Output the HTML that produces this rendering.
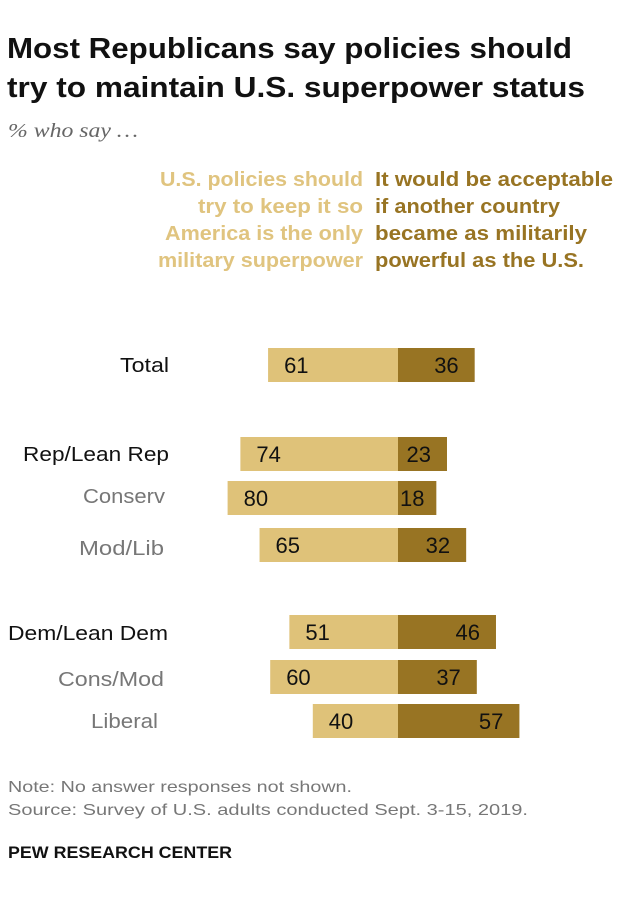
<!DOCTYPE html>
<html><head><meta charset="utf-8"><style>
body{margin:0;width:620px;height:900px;background:#fff;font-family:"Liberation Sans",Arial,sans-serif;overflow:hidden}
svg text{font-family:"Liberation Sans",Arial,sans-serif}
</style></head><body>
<svg id="chart" width="620" height="900" style="position:absolute;left:0;top:0">
<text x="7" y="58" font-size="29" font-weight="bold" fill="#111" textLength="565" lengthAdjust="spacingAndGlyphs">Most Republicans say policies should</text>
<text x="7" y="97" font-size="29" font-weight="bold" fill="#111" textLength="578" lengthAdjust="spacingAndGlyphs">try to maintain U.S. superpower status</text>
<text x="8" y="137" font-size="20" font-style="italic" fill="#666" style="font-family:'Liberation Serif',serif" textLength="130" lengthAdjust="spacingAndGlyphs">% who say …</text>
<g font-size="20" font-weight="bold" fill="#e0c47f" text-anchor="end">
<text x="363" y="186" textLength="203" lengthAdjust="spacingAndGlyphs">U.S. policies should</text>
<text x="363" y="213" textLength="165" lengthAdjust="spacingAndGlyphs">try to keep it so</text>
<text x="363" y="240" textLength="198" lengthAdjust="spacingAndGlyphs">America is the only</text>
<text x="363" y="267" textLength="205" lengthAdjust="spacingAndGlyphs">military superpower</text>
</g>
<g font-size="20" font-weight="bold" fill="#987423">
<text x="375" y="186" textLength="238" lengthAdjust="spacingAndGlyphs">It would be acceptable</text>
<text x="375" y="213" textLength="185" lengthAdjust="spacingAndGlyphs">if another country</text>
<text x="375" y="240" textLength="212" lengthAdjust="spacingAndGlyphs">became as militarily</text>
<text x="375" y="267" textLength="209" lengthAdjust="spacingAndGlyphs">powerful as the U.S.</text>
</g>
<text x="8" y="792" font-size="16" fill="#777" textLength="344" lengthAdjust="spacingAndGlyphs">Note: No answer responses not shown.</text>
<text x="8" y="815" font-size="16" fill="#777" textLength="520" lengthAdjust="spacingAndGlyphs">Source: Survey of U.S. adults conducted Sept. 3-15, 2019.</text>
<text x="8" y="858" font-size="17" font-weight="bold" fill="#111" textLength="224" lengthAdjust="spacingAndGlyphs">PEW RESEARCH CENTER</text>
</svg>
<script>
const categories=["Total","Rep/Lean Rep","Conserv","Mod/Lib","Dem/Lean Dem","Cons/Mod","Liberal"];
const keepOnly=[61,74,80,65,51,60,40];
const acceptable=[36,23,18,32,46,37,57];
const rowY=[365,454,498,545,632,677,721];
const labelRight=[169,169,165,164,168,164,158];
const labelW=[49,146,82,85,160,106,67];
const labelDy=[7,7,5,10,8,9,7];
const isSub=[false,false,true,true,false,true,true];
const svg=document.getElementById('chart');
const NS='http://www.w3.org/2000/svg';
const cx=398, k=2.13, h=34;
const x=v=>v*k;
categories.forEach((c,i)=>{
  const y=rowY[i];
  const l=document.createElementNS(NS,'rect');
  l.setAttribute('x',cx-x(keepOnly[i]));l.setAttribute('y',y-h/2);l.setAttribute('width',x(keepOnly[i]));l.setAttribute('height',h);l.setAttribute('fill','#dfc279');
  
  
  svg.appendChild(l);
  const r=document.createElementNS(NS,'rect');
  r.setAttribute('x',cx);r.setAttribute('y',y-h/2);r.setAttribute('width',x(acceptable[i]));r.setAttribute('height',h);r.setAttribute('fill','#987423');
  
  
  svg.appendChild(r);
  const t1=document.createElementNS(NS,'text');
  t1.setAttribute('x',cx-x(keepOnly[i])+16);t1.setAttribute('y',y+8);t1.setAttribute('font-size','22');t1.setAttribute('fill','#111');t1.textContent=keepOnly[i];
  
  
  svg.appendChild(t1);
  const small=x(acceptable[i])<42;
  const t2=document.createElementNS(NS,'text');
  t2.setAttribute('x',small?cx+2:cx+x(acceptable[i])-16);t2.setAttribute('y',y+8);t2.setAttribute('font-size','22');t2.setAttribute('text-anchor',small?'start':'end');t2.setAttribute('fill','#111');t2.textContent=acceptable[i];
  
  
  svg.appendChild(t2);
  const lb=document.createElementNS(NS,'text');
  lb.setAttribute('x',labelRight[i]);lb.setAttribute('y',y+labelDy[i]);lb.setAttribute('text-anchor','end');lb.setAttribute('font-size','20');lb.setAttribute('fill',isSub[i]?'#777':'#111');
  lb.setAttribute('textLength',labelW[i]);lb.setAttribute('lengthAdjust','spacingAndGlyphs');
  lb.textContent=c;
  
  
  svg.appendChild(lb);
});
</script>
</body></html>
